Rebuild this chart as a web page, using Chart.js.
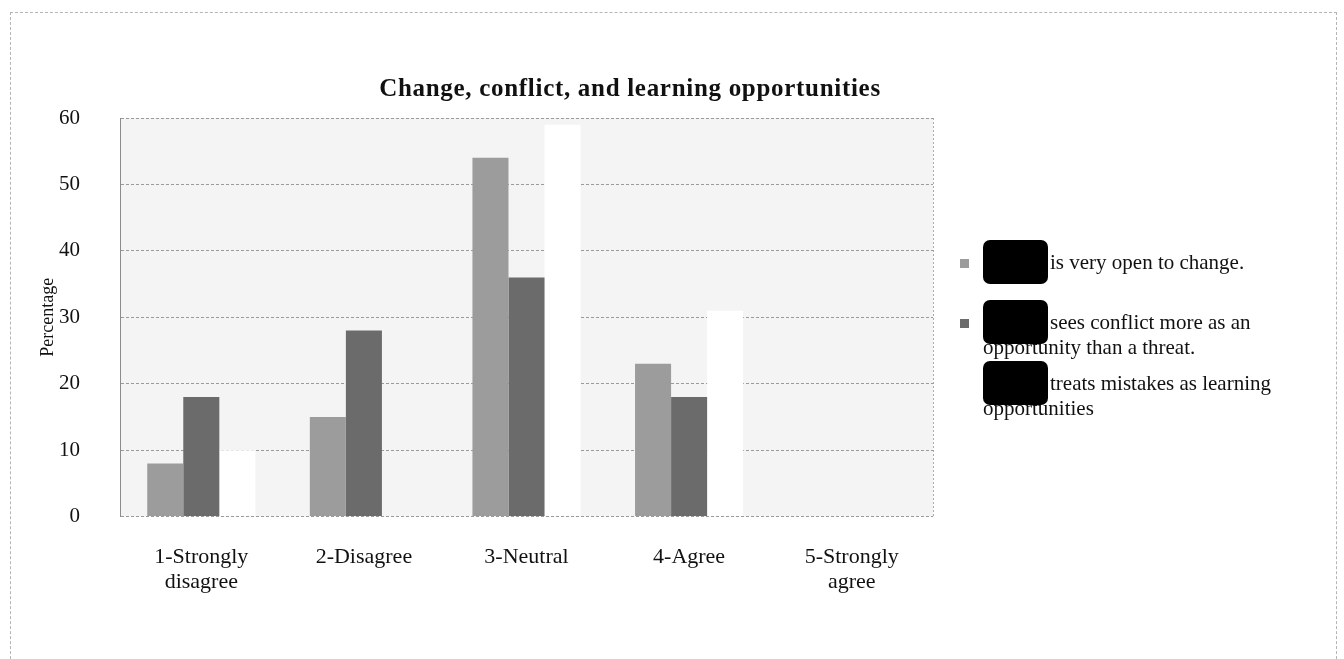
<!DOCTYPE html>
<html>
<head>
<meta charset="utf-8">
<script src="https://cdn.jsdelivr.net/npm/chart.js"></script>
<style>
  body { margin: 0; background: #fff; }
  #wrap { position: relative; width: 1344px; height: 659px; overflow: hidden; font-family: "Liberation Serif", serif; color: #111; }
  #frame { position: absolute; left: 10px; top: 12px; width: 1325px; height: 700px; border: 1px dashed #b5b5b5; }
  #title { position: absolute; left: 0; width: 1260px; top: 74px; text-align: center; font-weight: bold; font-size: 25px; letter-spacing: 0.7px; }
  .item { position: absolute; left: 955px; width: 325px; padding-left: 28px; font-size: 21px; line-height: 25px; text-indent: 67px; }
  .item .mark { position: absolute; left: 5px; top: 9px; width: 9px; height: 9px; }
  .item .redact { position: absolute; left: 28px; top: -10px; width: 65px; height: 44px; background: #000; border-radius: 7px; }
</style>
</head>
<body>
<div id="wrap">
  <div id="frame"></div>
  <canvas id="myChart" width="1344" height="659"></canvas>
  <div id="title">Change, conflict, and learning opportunities</div>
  <div id="legend"></div>
</div>
<script>
const categories = [['1-Strongly', 'disagree'], '2-Disagree', '3-Neutral', '4-Agree', ['5-Strongly', 'agree']];
const seriesNames = ['is very open to change.', 'sees conflict more as an opportunity than a threat.', 'treats mistakes as learning opportunities'];
const openToChange = [8, 15, 54, 23, 0];
const conflictOpportunity = [18, 28, 36, 18, 0];
const mistakesLearning = [10, 0, 59, 31, 0];
const yTicks = [0, 10, 20, 30, 40, 50, 60];

const colors = ['#9c9c9c', '#6b6b6b', '#ffffff'];

// light plot background + dotted right edge
const plotBg = {
  id: 'plotBg',
  beforeDraw(chart) {
    const a = chart.chartArea, c = chart.ctx;
    c.save();
    c.fillStyle = '#f4f4f4';
    c.fillRect(a.left, a.top, a.right - a.left, a.bottom - a.top);
    c.restore();
  },
  afterDraw(chart) {
    const a = chart.chartArea, c = chart.ctx;
    c.save();
    c.strokeStyle = '#aaa';
    c.setLineDash([2, 2]);
    c.beginPath();
    c.moveTo(a.right + 0.5, a.top);
    c.lineTo(a.right + 0.5, a.bottom);
    c.stroke();
    c.restore();
  }
};

const ctx = document.getElementById('myChart');
const chart = new Chart(ctx, {
  type: 'bar',
  data: {
    labels: categories,
    datasets: [
      { label: seriesNames[0], data: openToChange, backgroundColor: colors[0] },
      { label: seriesNames[1], data: conflictOpportunity, backgroundColor: colors[1] },
      { label: seriesNames[2], data: mistakesLearning, backgroundColor: colors[2] }
    ]
  },
  options: {
    responsive: false,
    animation: false,
    layout: { padding: { left: 35, right: 411, top: 118, bottom: 44 } },
    datasets: { bar: { categoryPercentage: 0.665, barPercentage: 1.0 } },
    plugins: {
      legend: { display: false },
      tooltip: { enabled: false }
    },
    scales: {
      x: {
        grid: { display: false },
        border: { display: false },
        ticks: { color: '#111', padding: 21, font: { family: 'Liberation Serif', size: 22, lineHeight: 1.1 } }
      },
      y: {
        min: 0,
        max: 60,
        afterBuildTicks: axis => { axis.ticks = yTicks.map(v => ({ value: v })); },
        afterFit: axis => { axis.width = 85; },
        grid: { color: '#9a9a9a', drawTicks: false },
        border: { color: '#8c8c8c', dash: [3, 2] },
        ticks: { color: '#111', padding: 40, font: { family: 'Liberation Serif', size: 21 } },
        title: {
          display: true,
          text: 'Percentage',
          color: '#111',
          padding: { top: 4, bottom: 0 },
          font: { family: 'Liberation Serif', size: 18, lineHeight: 1 }
        }
      }
    }
  },
  plugins: [plotBg]
});

// legend with redaction boxes, built from the series names
const legendTops = [250, 310, 371];
const legend = document.getElementById('legend');
seriesNames.forEach((name, i) => {
  const item = document.createElement('div');
  item.className = 'item';
  item.style.top = legendTops[i] + 'px';
  if (i < 2) {
    const m = document.createElement('span');
    m.className = 'mark';
    m.style.background = colors[i];
    item.appendChild(m);
  }
  const r = document.createElement('span');
  r.className = 'redact';
  item.appendChild(r);
  item.appendChild(document.createTextNode(name));
  legend.appendChild(item);
});
</script>
</body>
</html>
